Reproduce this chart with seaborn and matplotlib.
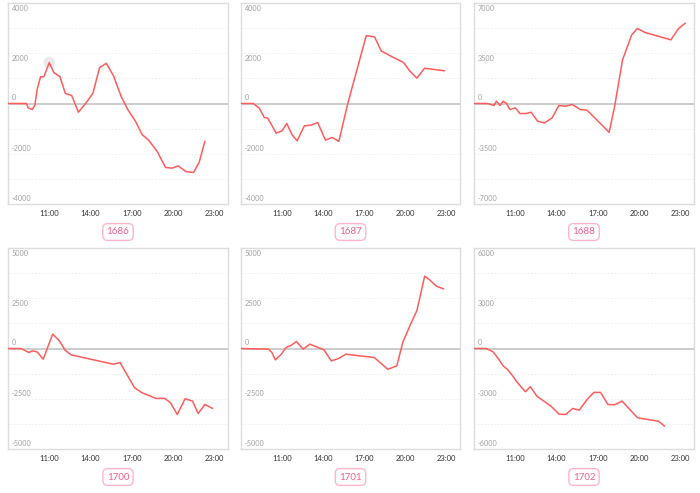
import numpy as np
import pandas as pd
import seaborn as sns
import matplotlib.pyplot as plt
import matplotlib.transforms as mtransforms

# =========================
# DATA (hour of day, value)
# =========================
names = ["1686", "1687", "1688", "1700", "1701", "1702"]

h_1686 = [8.0, 9.34, 9.46, 9.76, 9.95, 10.12, 10.37, 10.61, 11.0, 11.34, 11.78, 12.17, 12.63, 13.12,
          13.68, 14.17, 14.66, 15.15, 15.68, 16.22, 16.71, 17.27, 17.76, 18.24, 18.85, 19.46, 19.95,
          20.37, 20.93, 21.49, 21.9, 22.32]
v_1686 = [0, 0, -173, -240, -80, 560, 1067, 1067, 1627, 1227, 1067, 400, 320, -347,
          27, 400, 1427, 1600, 1093, 293, -240, -707, -1240, -1467, -1907, -2547, -2573,
          -2480, -2707, -2747, -2347, -1507]

h_1687 = [8.0, 8.9, 9.34, 9.7, 9.95, 10.27, 10.56, 11.0, 11.34, 11.73, 12.1, 12.63, 13.12, 13.6,
          14.17, 14.66, 15.15, 15.8, 17.15, 17.76, 18.24, 19.05, 19.88, 20.32, 20.85, 21.41, 22.88]
v_1687 = [0, 0, -185, -556, -583, -888, -1180, -1090, -795, -1245, -1484, -888, -861, -755,
          -1458, -1350, -1510, 0, 2700, 2650, 2094, 1855, 1630, 1300, 1007, 1405, 1300]

h_1688 = [8.0, 8.98, 9.46, 9.63, 9.9, 10.12, 10.37, 10.61, 11.0, 11.34, 11.78, 12.15, 12.63, 13.12,
          13.68, 14.17, 14.66, 15.15, 15.73, 16.22, 16.71, 17.27, 17.83, 18.24, 18.8, 19.46, 19.88,
          20.44, 22.32, 22.88, 23.37]
v_1688 = [0, 0, -140, 163, -140, 163, 0, -420, -303, -700, -700, -607, -1237, -1353,
          -1003, -140, -187, -70, -420, -467, -933, -1470, -2007, -140, 3033, 4760, 5227,
          4947, 4433, 5227, 5600]

h_1700 = [8.0, 8.93, 9.53, 9.77, 10.1, 10.26, 10.56, 10.88, 11.25, 11.74, 12.15, 12.59, 15.66, 16.15,
          17.2, 17.74, 18.77, 19.4, 19.82, 20.31, 20.88, 21.42, 21.83, 22.32, 22.88]
v_1700 = [0, 0, -200, -117, -167, -283, -533, 50, 717, 383, -83, -317, -783, -700,
          -1950, -2200, -2483, -2483, -2700, -3283, -2500, -2617, -3233, -2783, -2983]

h_1701 = [8.0, 10.02, 10.26, 10.51, 10.95, 11.29, 11.69, 12.05, 12.54, 13.03, 14.06, 14.6, 15.12,
          15.66, 17.74, 18.72, 19.38, 19.82, 20.36, 20.85, 21.42, 21.78, 22.27, 22.81]
v_1701 = [0, -33, -200, -567, -283, 50, 167, 350, -33, 217, -67, -617, -500,
          -283, -450, -1033, -867, 300, 1167, 1883, 3600, 3417, 3100, 2967]

h_1702 = [8.0, 8.9, 9.39, 9.8, 10.12, 10.42, 10.78, 11.07, 11.37, 11.74, 12.1, 12.59, 13.08, 13.62,
          14.19, 14.68, 15.17, 15.66, 16.23, 16.72, 17.2, 17.74, 18.23, 18.77, 19.4, 19.9, 21.42, 21.86]
v_1702 = [0, 0, -200, -640, -1040, -1240, -1600, -1940, -2240, -2580, -2280, -2860, -3140, -3460,
          -3920, -3940, -3580, -3680, -3040, -2620, -2620, -3340, -3360, -3140, -3700, -4140, -4340, -4640]

hours = [h_1686, h_1687, h_1688, h_1700, h_1701, h_1702]
values = [v_1686, v_1687, v_1688, v_1700, v_1701, v_1702]
y_limits = [4000, 4000, 7000, 5000, 5000, 6000]

x_ticks = [11, 14, 17, 20, 23]
x_labels = ["11:00", "14:00", "17:00", "20:00", "23:00"]

# =========================
# STYLE
# =========================
sns.set_style("white")
plt.rcParams['font.family'] = ['Lato', 'DejaVu Sans']

LINE = "#ff5c5c"
PINK = "#f0608c"

fig = plt.figure(figsize=(7, 4.93), dpi=100)
W, H = 700, 493

# axes boxes in pixels: left, top, right, bottom
cols = [(8, 228), (241, 460), (474, 694)]
rows = [(3, 204), (248, 449)]

for i, name in enumerate(names):
    r, c = divmod(i, 3)
    x0, x1 = cols[c]
    y0, y1 = rows[r]
    ax = fig.add_axes([x0 / W, 1 - y1 / H, (x1 - x0) / W, (y1 - y0) / H])

    df = pd.DataFrame({"hour": hours[i], "value": values[i]})
    lim = y_limits[i]

    # grid every quarter of the range
    for g in np.linspace(-lim, lim, 9):
        if g != 0:
            ax.axhline(g, color="#ececec", lw=0.6, ls=(0, (2, 2)), zorder=0)
    ax.axhline(0, color="#c4c4c4", lw=1.2, zorder=1)

    sns.lineplot(data=df, x="hour", y="value", ax=ax, color=LINE, lw=1.1, zorder=3)

    if name == "1686":
        k = int(np.argmax(values[i][:12]))
        ax.scatter([hours[i][k]], [values[i][k]], s=70, color="#dcdcdc", alpha=0.6,
                   edgecolor="none", zorder=2)

    ax.set_xlim(8, 24)
    ax.set_ylim(-lim, lim)
    ax.set_xlabel("")
    ax.set_ylabel("")
    ax.set_yticks([])
    ax.set_xticks(x_ticks)
    ax.set_xticklabels(x_labels, fontsize=5.5, color="#333333")
    ax.tick_params(axis="x", length=0, pad=4)

    for sp in ax.spines.values():
        sp.set_color("#dddddd")
        sp.set_linewidth(1.0)

    # y labels sit inside the plot area
    trans = mtransforms.blended_transform_factory(ax.transAxes, ax.transData)
    for val in [lim, lim / 2, 0, -lim / 2, -lim]:
        va = "top" if val > 0 else "bottom"
        off = -lim * 0.02 if val > 0 else lim * 0.02
        ax.text(0.018, val + off, f"{int(val)}", transform=trans, fontsize=5.2,
                color="#a0a0a0", ha="left", va=va)

    # name badge under each panel
    cx = (x0 + x1) / 2 / W
    cy = 1 - (y1 + 28) / H
    fig.text(cx, cy, name, fontsize=7, color=PINK, ha="center", va="center",
             bbox=dict(boxstyle="round,pad=0.4,rounding_size=0.5", fc="white",
                       ec="#ffb6c9", lw=1.0))

plt.savefig("out.png", dpi=100)
